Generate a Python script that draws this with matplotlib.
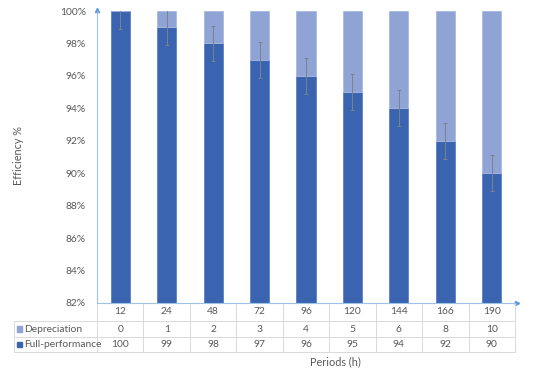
import matplotlib
matplotlib.use("Agg")
import matplotlib.pyplot as plt
import matplotlib.transforms as mtransforms
from matplotlib.lines import Line2D
from matplotlib.patches import Rectangle

plt.rcParams['font.family'] = ['Lato', 'DejaVu Sans']

categories = ['12', '24', '48', '72', '96', '120', '144', '166', '190']
full_perf = [100, 99, 98, 97, 96, 95, 94, 92, 90]
depreciation = [0, 1, 2, 3, 4, 5, 6, 8, 10]
errors = [1.1] * 9
y_ticks = [82, 84, 86, 88, 90, 92, 94, 96, 98, 100]

c_full = '#3A64AF'
c_dep = '#8FA3D5'
c_text = '#595959'
c_axis = '#9DC3E6'
c_grid = '#D9D9D9'
fs = 7.4

fig = plt.figure(figsize=(5.33, 3.75), dpi=100)
ax = fig.add_axes([97/533, 1 - 303/375, 418/533, 292/375])

x = list(range(len(categories)))
ax.bar(x, full_perf, width=0.41, color=c_full, edgecolor='#5A80C6', linewidth=0.6, zorder=2)
ax.bar(x, depreciation, bottom=full_perf, width=0.41, color=c_dep, edgecolor='#A9BAE0', linewidth=0.6, zorder=2)
ax.errorbar(x, full_perf, yerr=errors, fmt='none', ecolor='#7A8290', elinewidth=0.7,
            capsize=1.5, capthick=0.7, zorder=3, clip_on=True)

ax.set_xlim(-0.5, len(categories) - 0.5)
ax.set_ylim(82, 100)
ax.set_yticks(y_ticks)
ax.set_yticklabels([f'{v}%' for v in y_ticks], color=c_text, fontsize=fs)
ax.tick_params(axis='y', length=0, pad=8)
ax.set_xticks([])

for s in ['top', 'right']:
    ax.spines[s].set_visible(False)
ax.spines['left'].set_color(c_axis)
ax.spines['bottom'].set_color(c_axis)
ax.spines['left'].set_linewidth(0.8)
ax.spines['bottom'].set_linewidth(0.8)

# axis arrows
ax.plot([0], [1.005], marker='^', markersize=3, color='#5B9BD5', transform=ax.transAxes, clip_on=False)
ax.plot([1.005], [0], marker='>', markersize=3, color='#5B9BD5', transform=ax.transAxes, clip_on=False)

fig.text(19 / 533, 1 - 156 / 375, 'Efficiency %', rotation=90, ha='center', va='center',
         fontsize=7.8, color=c_text)

# Data table below the chart
trans = mtransforms.blended_transform_factory(ax.transData, ax.transAxes)
px = 1 / 292.0
row_edges = [0, -18 * px, -34 * px, -49 * px]
n = len(categories)
left_lab = -0.5 - (97 - 14) / (418 / n)

def hline(x0, x1, y):
    ax.add_line(Line2D([x0, x1], [y, y], transform=trans, color=c_grid, lw=0.7, clip_on=False))

def vline(xv, y0, y1):
    ax.add_line(Line2D([xv, xv], [y0, y1], transform=trans, color=c_grid, lw=0.7, clip_on=False))

hline(left_lab, n - 0.5, row_edges[1])
hline(left_lab, n - 0.5, row_edges[2])
hline(left_lab, n - 0.5, row_edges[3])
for i in range(n + 1):
    vline(i - 0.5, row_edges[0], row_edges[3])
vline(left_lab, row_edges[1], row_edges[3])

def mid(r):
    return (row_edges[r] + row_edges[r + 1]) / 2

for i, c in enumerate(categories):
    ax.text(i, mid(0), c, transform=trans, ha='center', va='center', fontsize=fs, color=c_text)
    ax.text(i, mid(1), str(depreciation[i]), transform=trans, ha='center', va='center', fontsize=fs, color=c_text)
    ax.text(i, mid(2), str(full_perf[i]), transform=trans, ha='center', va='center', fontsize=fs, color=c_text)

sq = 0.11
for r, (lab, col) in enumerate([('Depreciation', c_dep), ('Full-performance', c_full)], start=1):
    ax.add_patch(Rectangle((left_lab + 0.06, mid(r) - 2.6 * px), sq, 5.2 * px, transform=trans,
                           color=col, clip_on=False))
    ax.text(left_lab + 0.21, mid(r), lab, transform=trans, ha='left', va='center',
            fontsize=fs, color=c_text)

fig.text(335 / 533, 1 - 362 / 375, 'Periods (h)', ha='center', va='center', fontsize=7.8, color=c_text)

fig.savefig('out.png', dpi=100)
